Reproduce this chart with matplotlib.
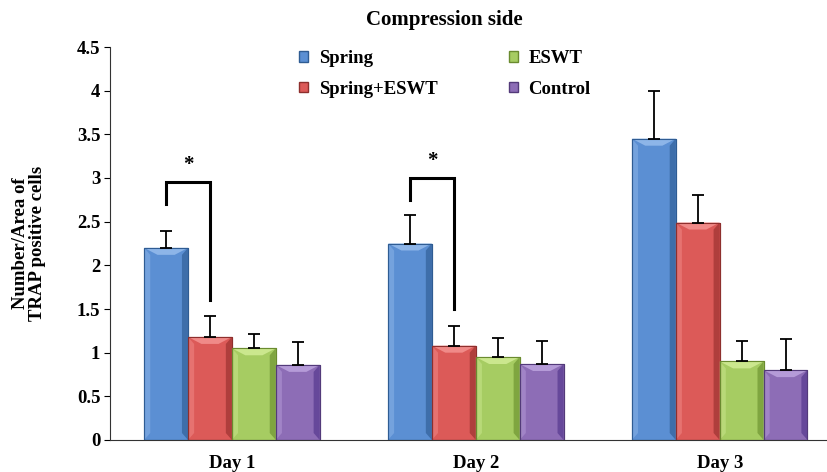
import matplotlib
matplotlib.use("Agg")
import matplotlib.pyplot as plt
import numpy as np
from matplotlib.patches import Patch

days = ["Day 1", "Day 2", "Day 3"]
groups = ["Spring", "Spring+ESWT", "ESWT", "Control"]
spring = [2.20, 2.25, 3.45]
spring_err = [0.19, 0.33, 0.55]
spring_eswt = [1.18, 1.08, 2.49]
spring_eswt_err = [0.24, 0.23, 0.31]
eswt = [1.05, 0.95, 0.90]
eswt_err = [0.16, 0.22, 0.23]
control = [0.86, 0.87, 0.80]
control_err = [0.26, 0.26, 0.36]
yticks = [0, 0.5, 1, 1.5, 2, 2.5, 3, 3.5, 4, 4.5]
ytick_labels = ["0", "0.5", "1", "1.5", "2", "2.5", "3", "3.5", "4", "4.5"]

colors = ["#5B8FD3", "#DC5A58", "#A6CC62", "#8D6DB6"]
edges = ["#2F5C93", "#8E2F2D", "#6A8B2F", "#533A7A"]
lights = ["#8DB5E8", "#F08A88", "#CBE78E", "#B59BD8"]
darks = ["#3E6EAA", "#AF3E3C", "#7FA540", "#66489A"]

serif = "Liberation Serif"
fs = 13.5
fig = plt.figure(figsize=(8.27, 4.72), dpi=100)
ax = fig.add_axes([110/827, 32/472, 717/827, 393/472])

vals = [spring, spring_eswt, eswt, control]
errs = [spring_err, spring_eswt_err, eswt_err, control_err]
x = np.arange(len(days))
w = 0.18
dx = 0.025
dy = 0.08
for i, (v, e) in enumerate(zip(vals, errs)):
    pos = x + (i - 1.5) * w
    ax.bar(pos, v, w, color=colors[i], edgecolor=edges[i], linewidth=0.8, zorder=2)
    for p, h in zip(pos, v):
        l, r = p - w/2, p + w/2
        ax.fill([r - dx, r, r, r - dx], [dy, 0, h, h - dy], color=darks[i], lw=0, zorder=3)
        ax.fill([l, l + dx, l + dx, l], [0, dy, h - dy, h], color=lights[i], lw=0, alpha=0.5, zorder=3)
        ax.fill([l, r, r - 2.2*dx, l + 2.2*dx], [h, h, h - dy, h - dy], color=lights[i], lw=0, zorder=3)
        ax.bar(p, h, w, fill=False, edgecolor=edges[i], linewidth=0.8, zorder=4)
    ax.errorbar(pos, v, yerr=[np.zeros(len(e)), e], fmt="none", ecolor="black",
                elinewidth=1.3, capsize=4, capthick=1.3, zorder=5)

# significance brackets
for d, (top_l, top, bot_r) in zip([0, 1], [(2.7, 2.95, 1.6), (2.75, 3.0, 1.5)]):
    xl = d - 1.5 * w
    xr = d - 0.5 * w
    ax.plot([xl, xl, xr, xr], [top_l, top, top, bot_r], color="black", lw=2.2,
            solid_joinstyle="miter", zorder=6)
    ax.text((xl + xr) / 2, top + 0.2, "*", ha="center", va="center",
            fontsize=15, fontweight="bold", family=serif)

ax.set_xlim(-0.5, 2.44)
ax.set_ylim(0, 4.5)
ax.set_yticks(yticks)
ax.set_yticklabels(ytick_labels)
ax.set_xticks(x)
ax.set_xticklabels(days)
ax.tick_params(axis="x", length=0, pad=11)
ax.tick_params(axis="y", length=4, direction="out", pad=3)
for lab in ax.get_xticklabels() + ax.get_yticklabels():
    lab.set_fontfamily(serif)
    lab.set_fontweight("bold")
    lab.set_fontsize(fs)
ax.spines["top"].set_visible(False)
ax.spines["right"].set_visible(False)
ax.spines["left"].set_color("#333333")
ax.spines["bottom"].set_color("#333333")

ax.set_ylabel("Number/Area of\nTRAP positive cells", family=serif, fontweight="bold",
              fontsize=fs, labelpad=22, linespacing=1.0)
fig.text(444/827, 1 - 20/472, "Compression side", ha="center", va="center",
         family=serif, fontweight="bold", fontsize=15)

handles = [Patch(facecolor=colors[i], edgecolor=edges[i]) for i in range(4)]
leg = fig.legend(handles, groups, ncol=2,
                 loc="upper left", bbox_to_anchor=(299/827, 1 - 50/472), frameon=False,
                 prop={"family": serif, "weight": "bold", "size": fs},
                 handlelength=0.5, handleheight=0.5, handletextpad=0.55,
                 columnspacing=3.8, labelspacing=0.72, borderaxespad=0, borderpad=0)

fig.savefig("out.png", dpi=100)
